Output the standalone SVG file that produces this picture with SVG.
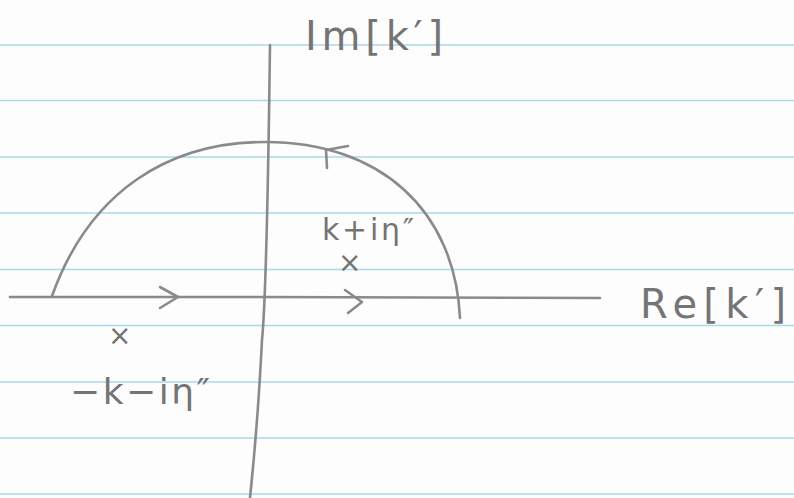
<svg xmlns="http://www.w3.org/2000/svg" width="794" height="498" viewBox="0 0 794 498">
<style>
.rule{stroke:#a9d9ea;stroke-width:1.5}
.pen{fill:none;stroke:#8a8a8a;stroke-width:2.6;stroke-linecap:round;stroke-linejoin:round}
.lbl{font-family:"DejaVu Sans",sans-serif;fill:#747474;font-weight:normal}
</style>
<rect width="794" height="498" fill="#fdfdfd"/>
<g id="paper">
<line class="rule" x1="0" y1="45" x2="794" y2="45"/>
<line class="rule" x1="0" y1="100.5" x2="794" y2="100.5"/>
<line class="rule" x1="0" y1="157" x2="794" y2="157"/>
<line class="rule" x1="0" y1="213" x2="794" y2="213"/>
<line class="rule" x1="0" y1="269.5" x2="794" y2="269.5"/>
<line class="rule" x1="0" y1="325.5" x2="794" y2="325.5"/>
<line class="rule" x1="0" y1="382" x2="794" y2="382"/>
<line class="rule" x1="0" y1="438" x2="794" y2="438"/>
<line class="rule" x1="0" y1="494" x2="794" y2="494"/>
</g>
<g id="connectors">
<path id="im-axis" class="pen" d="M270,45 C268,200 266,300 262,340 C258,420 254,460 250,498"/>
<path id="re-axis" class="pen" d="M10,297 L260,297 L600,298"/>
<path id="contour-arc" class="pen" d="M52,296 C90,190 170,142 265,142 C380,142 455,210 460,318"/>
<path class="pen" d="M160,287 L178,297 L160,308"/>
<path class="pen" d="M345,290 L362,302 L348,313"/>
<path class="pen" d="M348,146 L326,150 L327,168"/>
</g>
<g id="label-im"><text class="lbl" x="305" y="50" font-size="40" textLength="138" lengthAdjust="spacing">Im[k′]</text></g>
<g id="label-re"><text class="lbl" x="640" y="318" font-size="40" textLength="146" lengthAdjust="spacing">Re[k′]</text></g>
<g id="pole-upper">
<text class="lbl" x="322" y="240" font-size="30" textLength="92" lengthAdjust="spacing">k+iη″</text>
<text class="lbl" x="338" y="272" font-size="28">×</text>
</g>
<g id="pole-lower">
<text class="lbl" x="108" y="345" font-size="28">×</text>
<text class="lbl" x="70" y="404" font-size="36" textLength="140" lengthAdjust="spacing">−k−iη″</text>
</g>
</svg>
